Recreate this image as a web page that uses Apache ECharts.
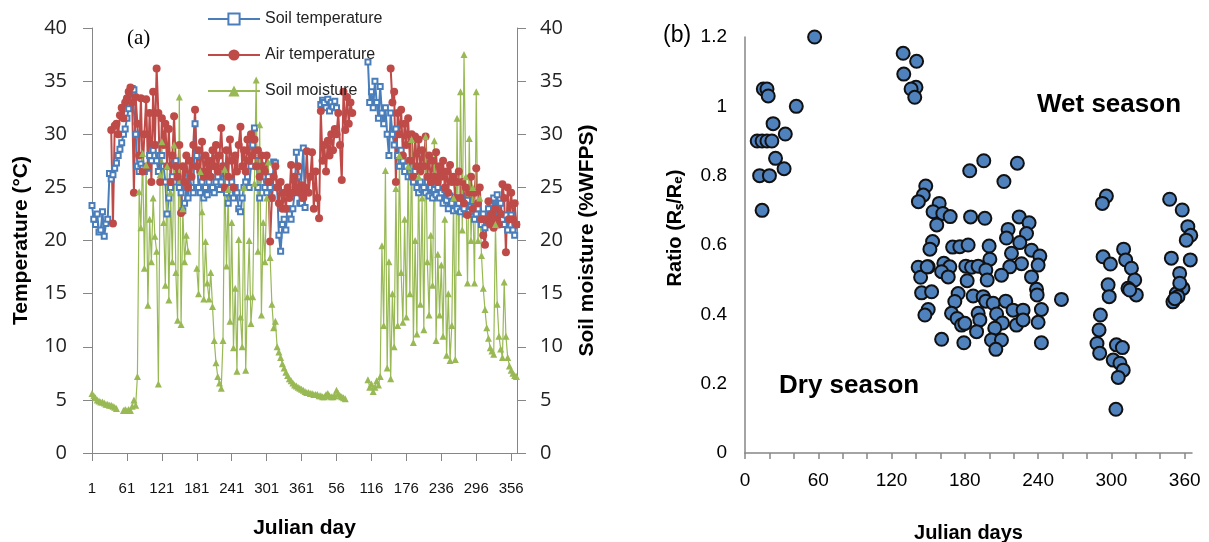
<!DOCTYPE html>
<html>
<head>
<meta charset="utf-8" />
<title>Soil temperature, air temperature, moisture and Rs/Re ratio</title>
<script src="https://cdn.jsdelivr.net/npm/echarts@6.0.0/dist/echarts.min.js"></script>
<style>
  html, body { margin: 0; padding: 0; background: #fff; }
  #charts { width: 1209px; height: 542px; }
</style>
</head>
<body>
<div id="charts"></div>
<script>
// (a) daily record over two years, one reading every 3rd day (day 1, 4, 7 ... 730)
const STEP = 3
const dayTicks = [1, 61, 121, 181, 241, 301, 361, 421, 481, 541, 601, 661, 721]
const dayTickLabels = ['1', '61', '121', '181', '241', '301', '361', '56', '116', '176', '236', '296', '356']

const soilTemp = [
  23.3, 22.0, 21.5, 22.5, 20.8, 21.0, 22.7, 20.4, 21.6, 22.0,
  26.3, 25.8, 26.2, 26.8, 27.3, 28.0, 28.6, 29.2, 30.0, 30.5,
  31.5, 32.4, 33.2, 34.3, 34.2, 30.0, 27.0, 26.5, 27.2, 26.8,
  26.5, 27.0, 26.8, 28.0, 27.5, 28.5, 29.0, 27.5, 26.5, 28.0,
  28.0, 27.0, 25.5, 22.5, 24.0, 25.0, 26.0, 25.5, 27.5, 26.0,
  25.0, 24.5, 22.8, 23.5, 25.0, 24.0, 26.0, 25.0, 24.5, 31.0,
  28.0, 25.0, 24.5, 25.5, 24.0, 25.0, 24.3, 25.5, 24.8, 25.0,
  24.5, 25.5, 26.0, 24.8, 25.5, 27.0, 25.0, 24.5, 23.5, 25.0,
  25.5, 24.0, 25.0, 24.5, 23.0, 22.7, 24.0, 25.0, 25.5, 26.0,
  25.0, 27.0, 29.0, 30.6, 28.0, 25.0, 24.0, 27.0, 26.0, 25.0,
  24.5, 26.0, 25.0, 24.0, 27.4, 27.3, 25.0, 20.5, 19.0, 21.5,
  22.0, 21.0, 23.0, 22.5, 22.0, 23.0, 24.5, 28.3, 26.0, 23.5,
  23.5, 28.7, 23.1, null, null, null, null, null, null, null,
  null, 32.8, 33.2, 33.0, 32.5, 33.3, 32.2, 33.0, 32.6, 33.1,
  32.5, null, null, null, null, null, null, null, null, null,
  null, null, null, null, null, null, null, null, 36.8, 33.0,
  34.0, 32.5, 35.0, 33.0, 31.5, 34.5, 32.0, 31.0, 32.5, 30.0,
  28.0, 32.0, 30.0, 29.0, 30.5, 28.0, 27.0, 28.5, 27.5, 26.5,
  27.0, 26.0, 27.5, 26.0, 25.5, 26.5, 25.0, 24.5, 25.5, 24.8,
  25.0, 24.5, 25.5, 24.2, 25.0, 24.0, 24.8, 24.3, 25.0, 24.0,
  24.5, 23.5, 24.8, 23.8, 23.0, 24.2, 23.5, 22.8, 24.0, 23.0,
  23.5, 22.7, 24.0, 23.0, 22.5, 23.8, 22.7, 23.2, 22.8, 22.0,
  22.5, 23.0, 22.0, 21.5, 22.5, 21.2, 22.0, 23.0, 23.5, 22.5,
  24.0, 23.0, 24.3, 22.5, 23.5, 22.0, 21.5, 22.4, 21.0, 22.0,
  22.4, 21.0, 20.5, 21.5
]

const airTemp = [
  null, null, null, null, null, null, null, null, null, null,
  null, 30.4, 21.6, 30.8, 31.0, 30.0, 31.8, 32.5, 31.5, 33.0,
  33.4, 34.0, 34.4, 33.0, 24.5, 33.5, 31.0, 28.0, 33.4, 26.5,
  30.0, 33.3, 27.0, 32.0, 25.5, 34.0, 29.0, 36.2, 32.0, 25.5,
  31.5, 29.0, 31.0, 27.0, 30.5, 25.5, 28.0, 31.7, 27.0, 26.0,
  29.0, 22.6, 27.0, 25.5, 28.0, 25.0, 27.5, 26.0, 29.0, 32.3,
  27.0, 28.5, 26.5, 29.3, 26.0, 28.0, 26.5, 27.5, 26.0, 28.5,
  27.0, 29.0, 26.5, 28.0, 30.6, 27.0, 25.0, 28.5, 26.0, 29.5,
  27.5, 25.0, 28.0, 26.5, 29.0, 30.7, 27.0, 28.5, 26.5, 29.5,
  27.5, 30.0, 28.0, 29.5, 27.0, 28.5, 26.0, 28.0, 27.0, 26.5,
  28.0, 25.5, 19.9, 24.0, 26.0, 27.0, 25.0, 23.5, 25.5, 23.0,
  24.5, 23.0, 25.0, 24.0, 27.1, 24.5, 26.0, 25.0, 27.0, 24.5,
  25.2, 24.0, 25.0, 28.4, 24.5, 26.0, 28.3, 23.0, 26.5, 24.0,
  22.1, 32.2, 27.5, 29.0, 26.5, 29.4, 28.0, 30.0, 28.5, 30.5,
  30.0, 32.0, 29.0, 25.7, 34.0, 30.4, 33.5, 31.0, 33.0, 32.0,
  null, null, null, null, null, null, null, null, null, null,
  null, null, null, null, null, null, null, null, null, null,
  null, 36.2, 33.0, 34.0, 25.5, 32.0, 30.0, 32.3, 28.0, 31.0,
  29.0, 31.5, 27.5, 30.0, 26.0, 29.8, 27.0, 29.5, 26.5, 28.5,
  27.0, 29.8, 26.0, 28.0, 25.5, 27.5, 26.0, 28.3, 25.5, 27.0,
  26.0, 27.5, 25.0, 26.5, 24.5, 27.1, 25.5, 26.0, 24.0, 25.5,
  26.5, 24.0, 25.5, 23.5, 25.0, 22.4, 24.5, 26.0, 23.0, 24.5,
  26.8, 23.5, 25.0, 22.0, 20.5, 19.6, 22.0, 23.7, 21.5, 22.5,
  21.2, 23.0, 22.0, 21.5, 22.5, 25.3, 24.0, 18.9, 25.0, 22.0,
  24.5, 22.0, 23.5, 21.5
]

const soilMoisture = [
  5.6, 5.4, 5.2, 5.0, 4.9, 4.8, 4.8, 4.7, 4.6, 4.6,
  4.5, 4.5, 4.4, 4.3, 4.2, null, null, null, 4.0, 4.1,
  4.0, 4.1, 4.0, 4.4, 5.0, 4.5, 7.2, 24.6, 21.2, 28.2,
  17.4, 27.1, 13.9, 22.0, 18.0, 24.0, 20.4, 19.0, 6.5, 26.2,
  29.3, 21.7, 15.8, 27.0, 14.4, 24.5, 18.0, 29.0, 17.0, 12.5,
  33.5, 12.1, 23.0, 18.0, 20.5, 19.0, null, null, null, null,
  17.4, 15.0, 26.5, 22.7, 14.5, 19.9, 16.0, 14.5, 17.0, 13.8,
  10.6, 8.5, 7.2, 6.6, 6.1, 10.6, 26.7, 17.6, 24.8, 12.4,
  21.7, 9.9, 15.5, 7.7, 20.1, 12.8, 10.0, 25.0, 7.8, 14.7,
  20.0, 12.2, 14.7, 25.4, 35.1, 19.0, 30.9, 13.0, 21.7, 18.0,
  24.0, 27.4, 18.4, 14.0, 11.8, 12.4, 10.0, 9.5, 9.0, 8.4,
  8.0, 7.6, 7.3, 7.0, 6.8, 6.6, 6.4, 6.3, 6.2, 6.1,
  6.0, 5.9, 5.8, 5.7, 5.7, 5.6, 5.6, 5.5, 5.5, 5.5,
  5.4, 5.4, 5.3, 5.3, 5.5, 5.6, 5.4, 5.3, 5.3, 5.4,
  5.9, 5.6, 5.4, 5.3, 5.2, 5.1, null, null, null, null,
  null, null, null, null, null, null, null, null, 6.9, 6.2,
  6.5, 5.8, 6.2, 6.8, 6.4, 7.2, 19.5, 12.0, 26.6, 8.0,
  18.0, 7.0, 15.0, 10.0, 24.9, 12.0, 28.0, 17.0, 12.3, 22.0,
  12.8, 27.0, 15.0, 29.5, 10.4, 20.0, 11.2, 26.0, 14.0, 24.0,
  11.6, 29.8, 18.0, 13.0, 20.5, 15.8, 29.4, 10.6, 18.7, 13.0,
  17.7, 11.0, 22.0, 9.2, 15.0, 8.7, 12.0, 24.0, 8.8, 31.5,
  17.0, 34.0, 21.0, 37.5, 26.0, 16.0, 29.6, 20.0, 25.0, 16.0,
  34.0, 20.0, 24.0, 18.6, 15.5, 13.5, 11.8, 10.8, 9.9, 9.6,
  9.3, 21.5, 14.0, 11.0, 9.8, 9.0, 16.1, 11.0, 9.0, 8.2,
  7.8, 7.5, 7.3, 7.2
]

// (b) ratio of soil respiration by Julian day
const ratioDays = [
  57, 15, 18, 19, 42, 23, 33, 10, 14, 18, 22, 25, 32, 12, 20, 14,
  129.5, 140.5, 130, 140, 136, 139,
  148, 146, 142, 159, 154, 162, 168, 157, 184, 195.5, 223, 212, 184.7, 196.4, 224.5, 232.6,
  230.5, 215.4, 214.1, 225, 153.6, 151.4, 170, 175.9, 182.7, 199.9, 200.5, 218.2, 234.6, 241.4,
  240, 226.4, 216.8, 141.8, 150, 143.8, 162.8, 167.7, 161, 166.4, 180.8, 185.5, 190.9, 197.2,
  181.9, 198.3, 210, 234.6, 144.6, 152.8, 174.5, 171.8, 186.8, 195, 197.2, 203.2, 213.5, 238.7,
  239.2, 259.1, 150, 147.3, 169.1, 173.7, 177.3, 180, 190.9, 192.3, 189.6, 206, 210.8, 204.5,
  219.5, 227.7, 242.7, 222.3, 227.7, 240, 161, 179.2, 201.8, 210, 205.4, 242.7, 149.2,
  295.9, 292.6, 347.7, 358, 362.6, 365, 361.3, 310, 293.2, 299.2, 311.7, 316.4, 319.1, 313.6,
  320.4, 297.3, 298.2, 349.1, 364.6, 355.9, 358.6, 353.2, 350.4, 354.5, 291, 289.9, 288.2, 290.4,
  304.1, 309, 301.5, 307, 309.7, 305.6, 303.7, 352, 356, 315
]
const ratioValues = [
  1.20, 1.05, 1.05, 1.03, 1.00, 0.95, 0.92, 0.90, 0.90, 0.90, 0.90, 0.85, 0.82, 0.80, 0.80, 0.70,
  1.153, 1.13, 1.093, 1.055, 1.05, 1.026,
  0.770, 0.744, 0.725, 0.720, 0.696, 0.691, 0.682, 0.658, 0.814, 0.843, 0.836, 0.783, 0.681, 0.677, 0.681, 0.664,
  0.633, 0.645, 0.620, 0.607, 0.610, 0.588, 0.594, 0.595, 0.600, 0.597, 0.559, 0.576, 0.585, 0.568,
  0.542, 0.546, 0.537, 0.536, 0.537, 0.507, 0.547, 0.537, 0.523, 0.508, 0.539, 0.536, 0.539, 0.528,
  0.497, 0.499, 0.513, 0.508, 0.462, 0.465, 0.460, 0.437, 0.453, 0.451, 0.438, 0.432, 0.438, 0.472,
  0.456, 0.443, 0.414, 0.398, 0.403, 0.388, 0.369, 0.374, 0.403, 0.384, 0.350, 0.401, 0.375, 0.360,
  0.412, 0.412, 0.414, 0.369, 0.384, 0.377, 0.328, 0.318, 0.326, 0.326, 0.299, 0.318, 0.537,
  0.741, 0.720, 0.732, 0.701, 0.653, 0.628, 0.614, 0.588, 0.566, 0.545, 0.557, 0.533, 0.499, 0.475,
  0.456, 0.485, 0.451, 0.562, 0.557, 0.518, 0.475, 0.460, 0.436, 0.451, 0.398, 0.355, 0.316, 0.288,
  0.312, 0.304, 0.268, 0.259, 0.239, 0.218, 0.126, 0.445, 0.490, 0.470
]
const ratioTicks = [0, 20, 40, 60, 80, 100, 120, 140, 160, 180, 200, 220, 240, 260, 280, 300, 320, 340, 360]
const ratioTickLabels = [0, 60, 120, 180, 240, 300, 360]

const toDaily = (vals) => vals.map((v, i) => [1 + i * STEP, v])
const toPoints = (xs, ys) => xs.map((x, i) => [x, ys[i]])

const axisGray = '#868686'
const sansFont = 'Liberation Sans'

let mycharts = echarts.init(document.getElementById('charts'), null, { renderer: 'canvas' })
mycharts.setOption({
  animation: false,
  backgroundColor: '#fff',
  // fixed plot boxes, names may sit close to the page edge
  grid: [
    { left: 92, top: 28, width: 425, height: 425, outerBoundsMode: 'none' },
    { left: 745, top: 37, width: 447, height: 416, outerBoundsMode: 'none' }
  ],
  legend: {
    data: ['Soil temperature', 'Air temperature', 'Soil moisture'],
    orient: 'vertical',
    left: 202,
    top: 6,
    itemWidth: 52,
    itemHeight: 14,
    itemGap: 20,
    textStyle: { fontFamily: sansFont, fontSize: 16, color: '#222', lineHeight: 16 }
  },
  graphic: [
    { type: 'text', left: 127, top: 28, style: { text: '(a)', font: '21px "Liberation Serif"', fill: '#000' } },
    { type: 'text', left: 663, top: 24, style: { text: '(b)', font: '23px "Liberation Sans"', fill: '#000' } },
    { type: 'text', left: 1037, top: 92, style: { text: 'Wet season', font: 'bold 26px "Liberation Sans"', fill: '#000' } },
    { type: 'text', left: 779, top: 373, style: { text: 'Dry season', font: 'bold 26px "Liberation Sans"', fill: '#000' } }
  ],
  xAxis: [
    {
      type: 'value',
      gridIndex: 0,
      min: 1,
      max: 731,
      name: 'Julian day',
      nameLocation: 'middle',
      nameGap: 65,
      nameTextStyle: { fontFamily: sansFont, fontWeight: 'bold', fontSize: 21, color: '#000' },
      axisLine: { lineStyle: { color: axisGray } },
      axisTick: { show: true, length: 8, customValues: dayTicks, lineStyle: { color: axisGray } },
      axisLabel: {
        customValues: dayTicks,
        margin: 28,
        fontFamily: sansFont,
        fontSize: 15,
        color: '#111',
        formatter: (v) => dayTickLabels[dayTicks.indexOf(v)]
      },
      splitLine: { show: false }
    },
    {
      type: 'value',
      gridIndex: 1,
      min: 0,
      max: 366,
      name: 'Julian days',
      nameLocation: 'middle',
      nameGap: 70,
      nameTextStyle: { fontFamily: sansFont, fontWeight: 'bold', fontSize: 20, color: '#000' },
      axisLine: { lineStyle: { color: axisGray, width: 1.5 } },
      axisTick: { show: true, length: 6, customValues: ratioTicks, lineStyle: { color: axisGray, width: 1.5 } },
      axisLabel: { customValues: ratioTickLabels, margin: 18, fontFamily: sansFont, fontSize: 19, color: '#000' },
      splitLine: { show: false }
    }
  ],
  yAxis: [
    {
      type: 'value',
      gridIndex: 0,
      position: 'left',
      min: 0,
      max: 40,
      interval: 5,
      name: 'Temperature (°C)',
      nameLocation: 'middle',
      nameGap: 60,
      nameTextStyle: { fontFamily: sansFont, fontWeight: 'bold', fontSize: 21, color: '#000' },
      axisLine: { show: true, lineStyle: { color: axisGray } },
      axisTick: { show: true, length: 9, lineStyle: { color: axisGray } },
      axisLabel: { margin: 25, fontFamily: 'Open Sans', fontSize: 20, color: '#222' },
      splitLine: { show: false }
    },
    {
      type: 'value',
      gridIndex: 0,
      position: 'right',
      min: 0,
      max: 40,
      interval: 5,
      name: 'Soil moisture (%WFPS)',
      nameLocation: 'middle',
      nameGap: 60,
      nameTextStyle: { fontFamily: sansFont, fontWeight: 'bold', fontSize: 21, color: '#000' },
      axisLine: { show: true, lineStyle: { color: axisGray } },
      axisTick: { show: true, length: 9, lineStyle: { color: axisGray } },
      axisLabel: { margin: 23, fontFamily: 'Open Sans', fontSize: 20, color: '#222' },
      splitLine: { show: false }
    },
    {
      type: 'value',
      gridIndex: 1,
      min: 0,
      max: 1.2,
      interval: 0.2,
      name: 'Ratio (Rₛ/Rₑ)',
      nameLocation: 'middle',
      nameGap: 60,
      nameTextStyle: { fontFamily: sansFont, fontWeight: 'bold', fontSize: 20, color: '#000', padding: [0, 0, 0, 34] },
      axisLine: { show: true, lineStyle: { color: axisGray, width: 1.5 } },
      axisTick: { show: false },
      axisLabel: { margin: 18, fontFamily: sansFont, fontSize: 19, color: '#000' },
      splitLine: { show: false }
    }
  ],
  series: [
    {
      name: 'Soil temperature',
      type: 'line',
      xAxisIndex: 0,
      yAxisIndex: 0,
      data: toDaily(soilTemp),
      connectNulls: false,
      symbol: 'emptyRect',
      symbolSize: 5,
      showAllSymbol: true,
      lineStyle: { color: '#4a7ebb', width: 2 },
      itemStyle: { color: '#4a7ebb', borderWidth: 2.2 }
    },
    {
      name: 'Air temperature',
      type: 'line',
      xAxisIndex: 0,
      yAxisIndex: 0,
      data: toDaily(airTemp),
      connectNulls: false,
      symbol: 'circle',
      symbolSize: 8,
      showAllSymbol: true,
      lineStyle: { color: '#be4b48', width: 2 },
      itemStyle: { color: '#be4b48' }
    },
    {
      name: 'Soil moisture',
      type: 'line',
      xAxisIndex: 0,
      yAxisIndex: 1,
      data: toDaily(soilMoisture),
      connectNulls: false,
      symbol: 'triangle',
      symbolSize: 7,
      showAllSymbol: true,
      lineStyle: { color: '#98b954', width: 1.2 },
      itemStyle: { color: '#98b954' }
    },
    {
      name: 'Ratio',
      type: 'scatter',
      xAxisIndex: 1,
      yAxisIndex: 2,
      data: toPoints(ratioDays, ratioValues),
      symbol: 'circle',
      symbolSize: 13,
      itemStyle: { color: '#4f81bd', borderColor: '#111', borderWidth: 2, opacity: 1 }
    }
  ]
})
</script>
</body>
</html>
